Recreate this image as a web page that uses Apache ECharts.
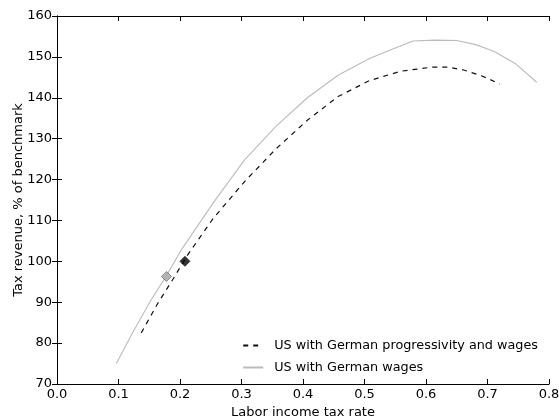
<!DOCTYPE html>
<html><head><meta charset="utf-8">
<script src="https://cdn.jsdelivr.net/npm/echarts@6/dist/echarts.min.js"></script>
<style>html,body{margin:0;padding:0;background:#fff}#c{width:559px;height:420px}</style>
</head><body><div id="c"></div>
<script>
// Data
const progX = [0.137, 0.163, 0.188, 0.213, 0.254, 0.305, 0.356, 0.407, 0.457, 0.508, 0.559, 0.610, 0.635, 0.661, 0.690, 0.720];
const progY = [82.5, 89.5, 95.5, 101.7, 110.5, 119.5, 127.5, 134.5, 140.3, 144.2, 146.5, 147.5, 147.5, 146.8, 145.4, 143.4];
const wageX = [0.0965, 0.122, 0.152, 0.178, 0.203, 0.254, 0.305, 0.356, 0.407, 0.457, 0.508, 0.544, 0.579, 0.615, 0.650, 0.681, 0.711, 0.745, 0.780];
const wageY = [75, 82.3, 90.3, 96.5, 103, 114.3, 124.8, 133, 140, 145.5, 149.6, 151.8, 153.9, 154.1, 154, 153, 151.3, 148.4, 143.8];
const benchWage = [0.178, 96.3];
const benchProg = [0.208, 100];
const seriesNames = ['US with German progressivity and wages', 'US with German wages'];
const xTicks = [0, 0.1, 0.2, 0.3, 0.4, 0.5, 0.6, 0.7, 0.8];
const yTicks = [70, 80, 90, 100, 110, 120, 130, 140, 150, 160];

const font = 'DejaVu Sans';
const fs = 13;
const zip = (xs, ys) => xs.map((x, i) => [x, ys[i]]);
const axLine = {show: true, lineStyle: {color: '#000', width: 1}};
const tick = {show: true, inside: true, length: 5, lineStyle: {color: '#000'}};
const chart = echarts.init(document.getElementById('c'), null, {renderer: 'canvas'});
chart.setOption({
  animation: false,
  backgroundColor: '#fff',
  grid: {left: 57, right: 10, top: 16, bottom: 36, containLabel: false, outerBoundsMode: 'none'},
  xAxis: [{
    type: 'value', min: xTicks[0], max: xTicks[xTicks.length - 1], interval: 0.1,
    axisLine: axLine, axisTick: tick, splitLine: {show: false},
    axisLabel: {color: '#000', fontFamily: font, fontSize: fs, margin: 4, formatter: v => v.toFixed(1)},
    name: 'Labor income tax rate', nameLocation: 'middle', nameGap: 22, nameMoveOverlap: false,
    nameTextStyle: {color: '#000', fontFamily: font, fontSize: fs}
  }, {
    type: 'value', position: 'top', min: xTicks[0], max: xTicks[xTicks.length - 1], interval: 0.1,
    axisLine: axLine, axisTick: tick, splitLine: {show: false}, axisLabel: {show: false}
  }],
  yAxis: [{
    type: 'value', min: yTicks[0], max: yTicks[yTicks.length - 1], interval: 10,
    axisLine: axLine, axisTick: tick, splitLine: {show: false},
    axisLabel: {color: '#000', fontFamily: font, fontSize: fs, margin: 5},
    name: 'Tax revenue, % of benchmark', nameLocation: 'middle', nameGap: 32, nameMoveOverlap: false,
    nameTextStyle: {color: '#000', fontFamily: font, fontSize: fs}
  }, {
    type: 'value', position: 'right', min: yTicks[0], max: yTicks[yTicks.length - 1], interval: 10,
    axisLine: axLine, axisTick: tick, splitLine: {show: false}, axisLabel: {show: false}
  }],
  legend: {
    data: seriesNames, orient: 'vertical', right: 16, bottom: 41,
    itemWidth: 20, itemHeight: 12, itemGap: 9, itemStyle: {opacity: 0},
    textStyle: {color: '#000', fontFamily: font, fontSize: 12.8, padding: [0, 0, 0, 6]}
  },
  series: [{
    name: seriesNames[0], type: 'line', data: zip(progX, progY), symbol: 'none',
    lineStyle: {color: '#111', width: 1.2, type: [5, 5]}, itemStyle: {color: '#000'}, z: 3
  }, {
    name: seriesNames[1], type: 'line', data: zip(wageX, wageY), symbol: 'none',
    lineStyle: {color: '#bbbbbb', width: 1.1}, itemStyle: {color: '#bbbbbb'}, z: 2
  }, {
    type: 'scatter', data: [benchWage], symbol: 'diamond', symbolSize: 10,
    itemStyle: {color: '#a6a6a6', borderColor: '#555', borderWidth: 0.8}, z: 5
  }, {
    type: 'scatter', data: [benchProg], symbol: 'diamond', symbolSize: 10,
    itemStyle: {color: '#000', borderColor: '#000', borderWidth: 0.8}, z: 5
  }]
});
</script></body></html>
